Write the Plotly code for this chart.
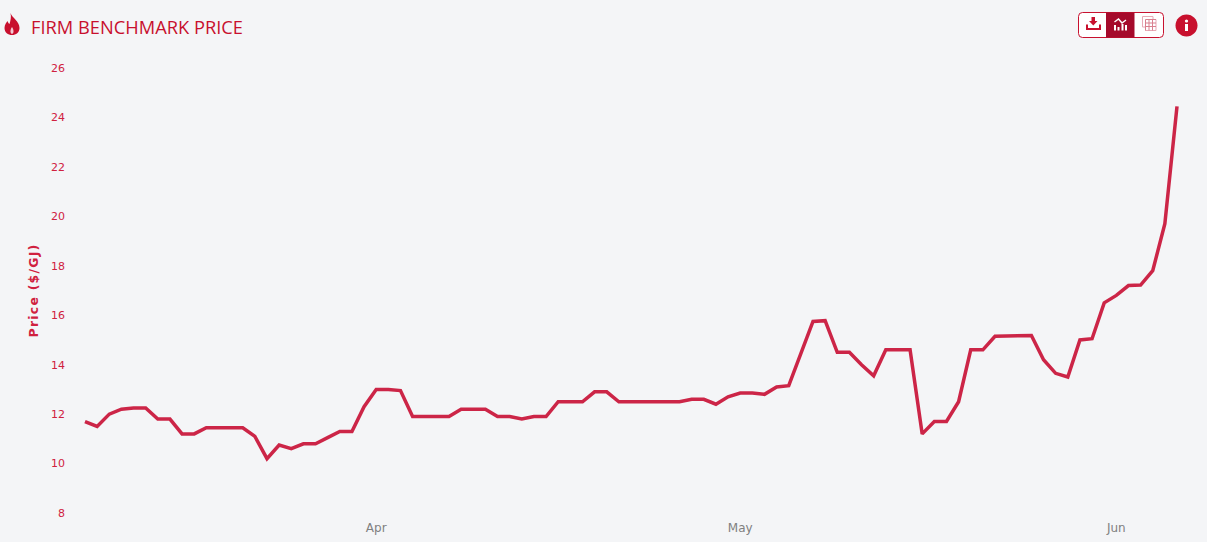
import re
from datetime import date, datetime, timedelta
import plotly.graph_objects as go

W, H = 1207, 542
start_date = date(2022, 3, 8)
prices = [
    11.7, 11.5, 12.0, 12.2, 12.25, 12.25, 11.8, 11.8, 11.2, 11.2,
    11.45, 11.45, 11.45, 11.45, 11.1, 10.2, 10.75, 10.6, 10.8, 10.8,
    11.05, 11.3, 11.3, 12.3, 13.0, 13.0, 12.95, 11.9, 11.9, 11.9,
    11.9, 12.2, 12.2, 12.2, 11.9, 11.9, 11.8, 11.9, 11.9, 12.5,
    12.5, 12.5, 12.9, 12.9, 12.5, 12.5, 12.5, 12.5, 12.5, 12.5,
    12.6, 12.6, 12.4, 12.7, 12.85, 12.85, 12.8, 13.1, 13.15, 14.5,
    15.75, 15.78, 14.5, 14.5, 14.0, 13.55, 14.6, 14.6, 14.6, 11.2,
    11.7, 11.7, 12.5, 14.6, 14.6, 15.15, 15.15, 15.18, 15.18, 14.2,
    13.65, 13.5, 15.0, 15.05, 16.5, 16.8, 17.2, 17.22, 17.8, 19.7,
    24.45,
]
dates = [start_date + timedelta(days=i) for i in range(len(prices))]
x_ticks = ["2022-04-01", "2022-05-01", "2022-06-01"]
x_labels = ["Apr", "May", "Jun"]
y_ticks = [8, 10, 12, 14, 16, 18, 20, 22, 24, 26]

RED = "#c8102e"
LINE = "#cc2547"
TICK = "#d0213f"
DARK = "#a50a2b"
BG = "#f4f5f7"

# plot-area edges in page pixels
L, R, T, B = 66, 1195, 68, 513
px_day = (1177 - 85) / 90
t0 = datetime(2022, 3, 8)
x0 = t0 - timedelta(days=(85 - L) / px_day)
x1 = t0 + timedelta(days=(R - 85) / px_day)


def fx(v):
    return float(v) / W


def fy(v):
    return 1 - float(v) / H


def path(s):
    """Convert an SVG path written in page pixels to paper coordinates."""
    nums = iter(re.findall(r"-?\d+\.?\d*|[A-Za-z]", s))
    out = []
    for tok in nums:
        if tok.isalpha():
            out.append(tok)
        else:
            out.append(f"{fx(tok):.5f},{fy(next(nums)):.5f}")
    return " ".join(out)


def shape(d, fill=None, stroke=None, width=0):
    return dict(
        type="path", xref="paper", yref="paper", path=path(d),
        fillcolor=fill or "rgba(0,0,0,0)",
        line=dict(color=stroke or "rgba(0,0,0,0)", width=width),
        layer="above",
    )


def rrect(a, b, c, d, r):
    return (f"M {a+r} {b} L {c-r} {b} Q {c} {b} {c} {b+r} L {c} {d-r} Q {c} {d} {c-r} {d} "
            f"L {a+r} {d} Q {a} {d} {a} {d-r} L {a} {b+r} Q {a} {b} {a+r} {b} Z")


def circle(cx, cy, r):
    k = 0.5523 * r
    return (f"M {cx-r} {cy} C {cx-r} {cy-k} {cx-k} {cy-r} {cx} {cy-r} "
            f"C {cx+k} {cy-r} {cx+r} {cy-k} {cx+r} {cy} "
            f"C {cx+r} {cy+k} {cx+k} {cy+r} {cx} {cy+r} "
            f"C {cx-k} {cy+r} {cx-r} {cy+k} {cx-r} {cy} Z")


shapes = [
    # flame
    shape("M 10.5 13 C 12 18 19.5 21 19.5 28 C 19.5 32.5 16 35 12 35 C 8 35 4.5 32.5 4.5 28 "
          "C 4.5 24.5 6.5 22.5 7.5 21 C 8 22.5 8.5 23.5 9.5 24 C 10.5 21 11.5 17 10.5 13 Z", fill=RED),
    shape("M 12 27 C 13.3 29 13.5 30 13.5 31.5 C 13.5 33 12.7 33.8 12 33.8 C 11.3 33.8 10.5 33 10.5 31.5 "
          "C 10.5 30 10.7 29 12 27 Z", fill="#f4c9d2"),
    # button group
    shape(rrect(1078.5, 12.5, 1163.5, 37.5, 4), fill="#ffffff", stroke=RED, width=1),
    shape("M 1106 12.5 L 1134.5 12.5 L 1134.5 37.5 L 1106 37.5 Z", fill=DARK),
    # download icon
    shape("M 1091.5 17 L 1095 17 L 1095 21 L 1097.5 21 L 1093.3 25.5 L 1089 21 L 1091.5 21 Z", fill=RED),
    shape("M 1087 24.5 L 1087 29 L 1100 29 L 1100 24.5", stroke=RED, width=2),
    # chart icon
    shape("M 1115 25 L 1115 30.5", stroke="#ffffff", width=2),
    shape("M 1118.5 27 L 1118.5 30.5", stroke="#ffffff", width=2),
    shape("M 1122.5 24 L 1122.5 30.5", stroke="#ffffff", width=2),
    shape("M 1126 25 L 1126 30.5", stroke="#ffffff", width=2),
    shape("M 1114.5 22 L 1118.5 19 L 1122 23 L 1126 20", stroke="#ffffff", width=1.5),
    # table icon
    shape("M 1142.5 16.5 L 1153 16.5 L 1153 19.5 L 1156 19.5 L 1156 30.5 L 1145.5 30.5 L 1145.5 27 L 1142.5 27 Z",
          stroke="#e7a9b6", width=1),
    shape("M 1145.5 19.5 L 1156 19.5 M 1145.5 23 L 1156 23 M 1145.5 26.5 L 1156 26.5 "
          "M 1145.5 19.5 L 1145.5 30.5 M 1149 19.5 L 1149 30.5 M 1152.5 19.5 L 1152.5 30.5",
          stroke="#d9808f", width=1),
    # info button
    shape(circle(1186.5, 25.5, 11), fill=RED),
    shape("M 1185 24 L 1188 24 L 1188 31 L 1185 31 Z", fill="#ffffff"),
    shape(circle(1186.5, 21, 1.6), fill="#ffffff"),
]

fig = go.Figure(
    go.Scatter(
        x=dates, y=prices, mode="lines",
        line=dict(color=LINE, width=3.5),
        hovertemplate="%{x|%d %b %Y}: %{y}<extra></extra>",
    )
)
fig.update_layout(
    width=W, height=H, autosize=False,
    margin=dict(l=0, r=0, t=0, b=0, autoexpand=False),
    paper_bgcolor=BG, plot_bgcolor=BG,
    showlegend=False,
    shapes=shapes,
    annotations=[
        dict(
            text="FIRM BENCHMARK PRICE", xref="paper", yref="paper",
            x=fx(29), y=fy(27), xanchor="left", yanchor="middle", showarrow=False,
            font=dict(family="Open Sans", size=18.3, color=RED),
        ),
    ],
    xaxis=dict(
        domain=[fx(L), fx(R)], range=[x0, x1], type="date", automargin=False,
        tickmode="array", tickvals=x_ticks, ticktext=x_labels,
        showgrid=False, zeroline=False, showline=False,
        ticks="outside", ticklen=4, tickcolor="rgba(0,0,0,0)",
        tickfont=dict(family="DejaVu Sans", size=12, color="#808080"),
    ),
    yaxis=dict(
        domain=[fy(B), fy(T)], range=[8, 26], automargin=False,
        tickmode="array", tickvals=y_ticks,
        showgrid=False, zeroline=False, showline=False,
        ticks="",
        tickfont=dict(family="DejaVu Sans", size=11, color=TICK),
        title=dict(text="<b>Price ($/GJ)</b>", standoff=9,
                   font=dict(family="DejaVu Sans", size=12.5, color=TICK)),
    ),
)
spacing_js = """
function spaceTitle(){var t=document.querySelector('.ytitle');if(t){t.style.letterSpacing='1.2px';}}
spaceTitle();setTimeout(spaceTitle,50);setTimeout(spaceTitle,300);
document.body.style.margin='0';document.body.style.background='#f4f5f7';
"""
fig.write_html("out.html", config=dict(displayModeBar=False), post_script=spacing_js)
